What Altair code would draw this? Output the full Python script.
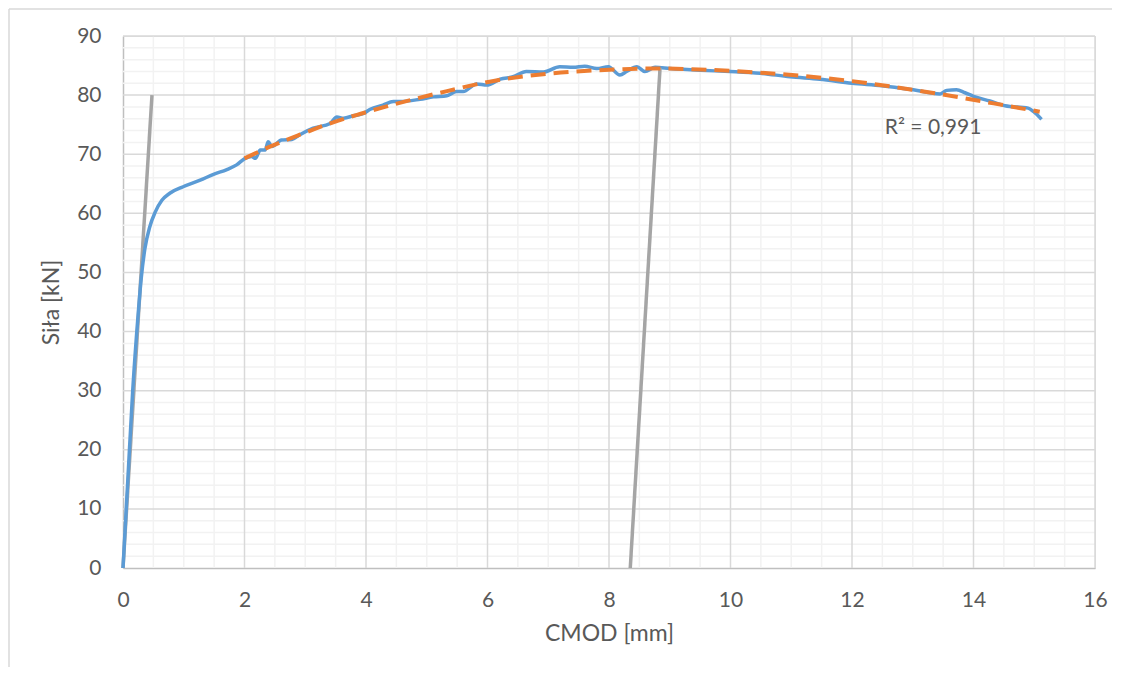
import altair as alt
import pandas as pd

# --- data ---
cmod = [0.0, 0.08, 0.16, 0.25, 0.30, 0.36, 0.44, 0.53, 0.64, 0.77, 0.99, 1.27, 1.49, 1.71,
        1.87, 2.01, 2.12, 2.18, 2.26, 2.34, 2.39, 2.45, 2.61, 2.78, 2.91, 3.13, 3.41, 3.52,
        3.63, 3.79, 3.96, 4.07, 4.28, 4.45, 4.56, 4.89, 5.11, 5.33, 5.49, 5.60, 5.82, 5.99,
        6.21, 6.42, 6.64, 6.92, 7.19, 7.41, 7.60, 7.80, 7.99, 8.18, 8.29, 8.46, 8.59, 8.76,
        9.00, 9.50, 9.99, 10.49, 10.98, 11.47, 12.00, 12.49, 13.01, 13.45, 13.56, 13.72,
        13.86, 14.00, 14.27, 14.52, 14.90, 14.99, 15.12]
sila = [0.0, 15.0, 30.0, 43.0, 49.0, 54.0, 57.7, 60.2, 62.2, 63.4, 64.5, 65.6, 66.6, 67.4,
        68.2, 69.3, 69.6, 69.3, 70.7, 70.7, 72.1, 71.3, 72.4, 72.5, 73.3, 74.4, 75.2, 76.3,
        76.1, 76.5, 76.9, 77.6, 78.3, 78.9, 78.9, 79.3, 79.7, 79.9, 80.6, 80.6, 81.9, 81.7,
        82.7, 83.1, 84.0, 83.9, 84.8, 84.7, 84.9, 84.5, 84.8, 83.4, 84.0, 84.8, 84.0, 84.7,
        84.5, 84.2, 84.0, 83.7, 83.1, 82.7, 82.0, 81.6, 80.9, 80.2, 80.8, 80.9,
        80.4, 79.8, 79.0, 78.2, 77.8, 77.2, 75.9]

trend_x = [2.0, 2.47, 2.91, 3.46, 3.90, 4.34, 5.22, 6.10, 6.97, 7.80, 8.78, 9.99, 10.49,
           11.97, 13.00, 13.78, 14.33, 15.09]
trend_y = [69.3, 71.5, 73.3, 75.4, 76.8, 78.1, 80.4, 82.4, 83.6, 84.2, 84.5, 84.1, 83.8,
           82.4, 80.9, 79.6, 78.6, 77.2]

line1_x = [0.0, 0.477]
line1_y = [0.0, 80.0]
line2_x = [8.35, 8.84]
line2_y = [0.0, 84.6]

x_major = [2, 4, 6, 8, 10, 12, 14, 16]
y_major = [10, 20, 30, 40, 50, 60, 70, 80, 90]
x_minor = [v / 2 for v in range(1, 33) if v % 4 != 0]
y_minor = [v for v in range(2, 90, 2) if v % 10 != 0]
x_ticks = [0, 2, 4, 6, 8, 10, 12, 14, 16]
y_ticks = [0, 10, 20, 30, 40, 50, 60, 70, 80, 90]

r2_label = "R² = 0,991"
r2_pos = (12.54, 74.4)

FONT = "Lato"
TXT = "#595959"

xs = alt.Scale(domain=[0, 16], nice=False, zero=False)
ys = alt.Scale(domain=[0, 90], nice=False, zero=False)
xaxis = alt.Axis(values=x_ticks, title="CMOD [mm]", grid=False, ticks=False,
                 domainColor="#BFBFBF", domainWidth=1.5, labelFont=FONT, labelFontSize=21,
                 labelColor=TXT, labelPadding=21, titleFont=FONT, titleFontSize=23,
                 titleColor=TXT, titleFontWeight="normal", titlePadding=12, labelFlush=False)
yaxis = alt.Axis(values=y_ticks, title="Siła [kN]", grid=False, ticks=False,
                 domainColor="#BFBFBF", domainWidth=1.5, labelFont=FONT, labelFontSize=21,
                 labelColor=TXT, labelPadding=22, titleFont=FONT, titleFontSize=23,
                 titleColor=TXT, titleFontWeight="normal", titlePadding=13, labelFlush=False)

X = alt.X("x:Q", scale=xs, axis=xaxis)
Y = alt.Y("y:Q", scale=ys, axis=yaxis)

df_main = pd.DataFrame({"x": cmod, "y": sila})
df_trend = pd.DataFrame({"x": trend_x, "y": trend_y})
df_l1 = pd.DataFrame({"x": line1_x, "y": line1_y})
df_l2 = pd.DataFrame({"x": line2_x, "y": line2_y})

minor_v = alt.Chart(pd.DataFrame({"x": x_minor})).mark_rule(color="#F2F2F2", strokeWidth=1.5).encode(x=X)
minor_h = alt.Chart(pd.DataFrame({"y": y_minor})).mark_rule(color="#F2F2F2", strokeWidth=1.5).encode(y=Y)
major_v = alt.Chart(pd.DataFrame({"x": x_major})).mark_rule(color="#D9D9D9", strokeWidth=1.5).encode(x=X)
major_h = alt.Chart(pd.DataFrame({"y": y_major})).mark_rule(color="#D9D9D9", strokeWidth=1.5).encode(y=Y)

border_l = alt.Chart(pd.DataFrame({"a": [0]})).mark_rule(color="#D9D9D9", strokeWidth=1.5).encode(
    x=alt.value(-114), y=alt.value(-27), y2=alt.value(650))
border_t = alt.Chart(pd.DataFrame({"a": [0]})).mark_rule(color="#D9D9D9", strokeWidth=1.5).encode(
    y=alt.value(-27), x=alt.value(-114), x2=alt.value(1000))

gray1 = alt.Chart(df_l1).mark_line(color="#A5A5A5", strokeWidth=3.5).encode(x=X, y=Y)
gray2 = alt.Chart(df_l2).mark_line(color="#A5A5A5", strokeWidth=3.5).encode(x=X, y=Y)
blue = alt.Chart(df_main).mark_line(color="#5B9BD5", strokeWidth=3.5, interpolate="monotone").encode(x=X, y=Y)
orange = alt.Chart(df_trend).mark_line(color="#ED7D31", strokeWidth=4, strokeDash=[15, 8],
                                       interpolate="monotone").encode(x=X, y=Y)
r2 = alt.Chart(pd.DataFrame({"x": [r2_pos[0]], "y": [r2_pos[1]], "t": [r2_label]})).mark_text(
    align="left", baseline="middle", font=FONT, fontSize=21, color=TXT).encode(x=X, y=Y, text="t:N")

chart = alt.layer(minor_v, minor_h, major_v, major_h, border_l, border_t,
                  gray1, blue, gray2, orange, r2).properties(
    width=972, height=532, padding={"left": 115, "top": 28, "right": 17, "bottom": 99},
    autosize=alt.AutoSizeParams(type="none")
).configure_view(stroke=None).configure(background="white")

chart.save("out.html", embed_options={"renderer": "svg", "actions": False})
